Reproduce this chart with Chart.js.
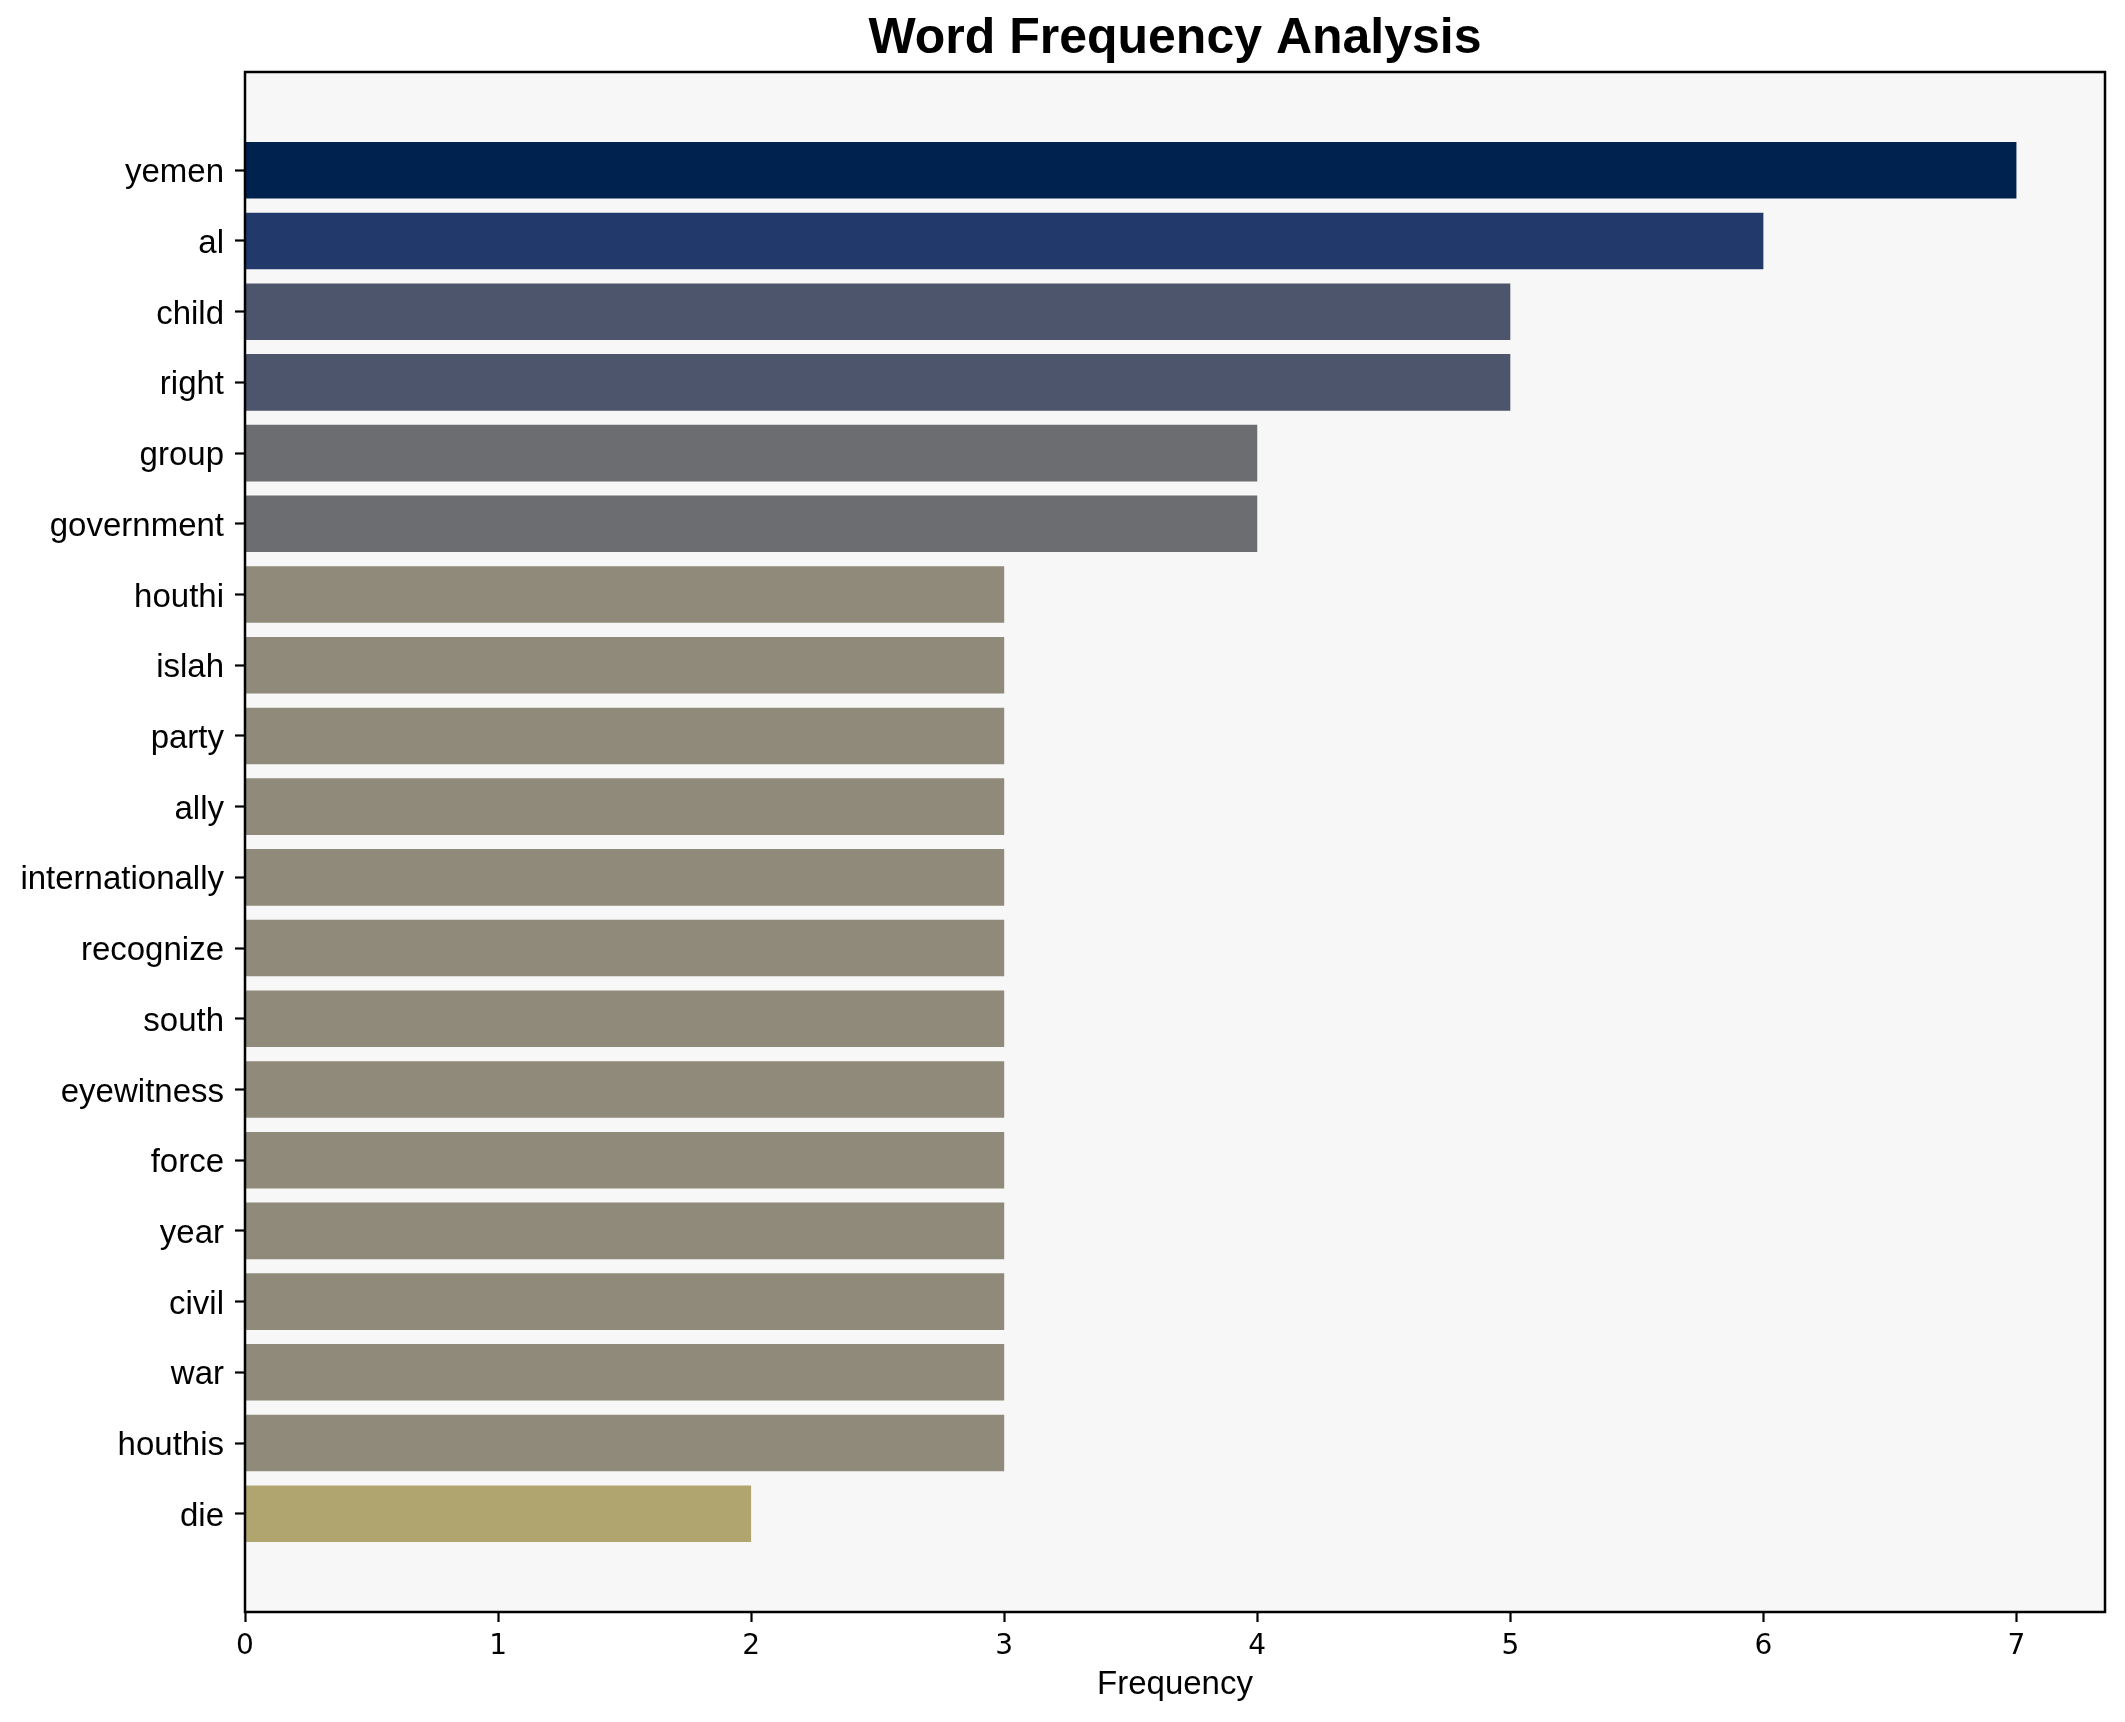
<!DOCTYPE html>
<html>
<head>
<meta charset="utf-8">
<title>Word Frequency Analysis</title>
<script src="https://cdn.jsdelivr.net/npm/chart.js@4/dist/chart.umd.min.js"></script>
<style>
  html, body { margin: 0; padding: 0; background: #ffffff; }
  #wrap { width: 2125px; height: 1722px; }
</style>
</head>
<body>
<div id="wrap"><canvas id="word-freq-chart" width="2125" height="1722"></canvas></div>
<script>
// Words, top to bottom, and how often each one shows up.
const WORDS = [
    "yemen", "al", "child", "right", "group", "government", "houthi", "islah",
    "party", "ally", "internationally", "recognize", "south", "eyewitness",
    "force", "year", "civil", "war", "houthis", "die",
];
const COUNTS = [7, 6, 5, 5, 4, 4, 3, 3, 3, 3, 3, 3, 3, 3, 3, 3, 3, 3, 3, 2];
const X_TICKS = [0, 1, 2, 3, 4, 5, 6, 7];

// cividis-ish shade per count value
const SHADE = {
    7: "#00224e",
    6: "#213a6b",
    5: "#4c556c",
    4: "#6c6d71",
    3: "#8f8a79",
    2: "#b0a46f",
};

const LABEL_FONT = "'Liberation Sans', Arial, Helvetica, sans-serif";
const TICK_FONT = "'DejaVu Sans', sans-serif";

// matplotlib-style margins: 5% on each end of the data range
const xMax = Math.max(...COUNTS) * 1.05;
const yPad = ((WORDS.length - 1) + 0.8) * 0.05 + 0.4;

const framePlugin = {
    id: "frame",
    beforeDraw(chart) {
        const { ctx, chartArea: a } = chart;
        ctx.save();
        ctx.fillStyle = "#f7f7f7";
        ctx.fillRect(a.left, a.top, a.right - a.left, a.bottom - a.top);
        ctx.restore();
    },
    afterDraw(chart) {
        const { ctx, chartArea: a } = chart;
        ctx.save();
        ctx.strokeStyle = "#000000";
        ctx.lineWidth = 2.5;
        ctx.strokeRect(a.left, a.top, a.right - a.left, a.bottom - a.top);
        ctx.restore();
    },
};

function renderWordChart() {
    const canvas = document.getElementById("word-freq-chart");
    if (!canvas || !window.Chart) return;

    new Chart(canvas, {
        type: "bar",
        data: {
            datasets: [
                {
                    label: "Frequency",
                    data: COUNTS.map((c, i) => ({ x: c, y: i })),
                    backgroundColor: COUNTS.map(c => SHADE[c]),
                    borderWidth: 0,
                    barPercentage: 0.8,
                    categoryPercentage: 1.0,
                },
            ],
        },
        options: {
            indexAxis: "y",
            responsive: false,
            animation: false,
            devicePixelRatio: 1,
            layout: { padding: { left: 0, right: 20, top: 0, bottom: 0 } },
            plugins: {
                legend: { display: false },
                tooltip: { enabled: false },
                title: {
                    display: true,
                    fullSize: false, // centre over the plot, like matplotlib
                    text: "Word Frequency Analysis",
                    color: "#000000",
                    font: { family: LABEL_FONT, size: 50, weight: "bold", lineHeight: 1.2 },
                    padding: { top: 9, bottom: 3 },
                },
            },
            scales: {
                x: {
                    type: "linear",
                    min: 0,
                    max: xMax,
                    offset: false,
                    afterBuildTicks: scale => {
                        scale.ticks = X_TICKS.map(v => ({ value: v }));
                    },
                    afterFit: scale => { scale.height = 110; },
                    grid: {
                        display: true,
                        drawOnChartArea: false,
                        drawTicks: true,
                        tickLength: 10,
                        tickWidth: 2.2,
                        tickColor: "#000000",
                        offset: false,
                    },
                    border: { display: false },
                    ticks: {
                        color: "#000000",
                        font: { family: TICK_FONT, size: 28 },
                        padding: 8,
                        maxRotation: 0,
                    },
                    title: {
                        display: true,
                        text: "Frequency",
                        color: "#000000",
                        font: { family: LABEL_FONT, size: 33, lineHeight: 1.2 },
                        padding: { top: 0, bottom: 17 },
                    },
                },
                y: {
                    type: "linear",
                    reverse: true,
                    min: -yPad,
                    max: WORDS.length - 1 + yPad,
                    offset: false,
                    afterBuildTicks: scale => {
                        scale.ticks = WORDS.map((w, i) => ({ value: i }));
                    },
                    afterFit: scale => { scale.width = 245; },
                    grid: {
                        display: true,
                        drawOnChartArea: false,
                        drawTicks: true,
                        tickLength: 10,
                        tickWidth: 2.2,
                        tickColor: "#000000",
                        offset: false,
                    },
                    border: { display: false },
                    ticks: {
                        color: "#000000",
                        font: { family: LABEL_FONT, size: 33 },
                        padding: 11,
                        labelOffset: 3,
                        callback: v => WORDS[v],
                    },
                },
            },
        },
        plugins: [framePlugin],
    });
}

if (document.readyState === "loading") {
    document.addEventListener("DOMContentLoaded", renderWordChart);
} else {
    renderWordChart();
}
</script>
</body>
</html>
